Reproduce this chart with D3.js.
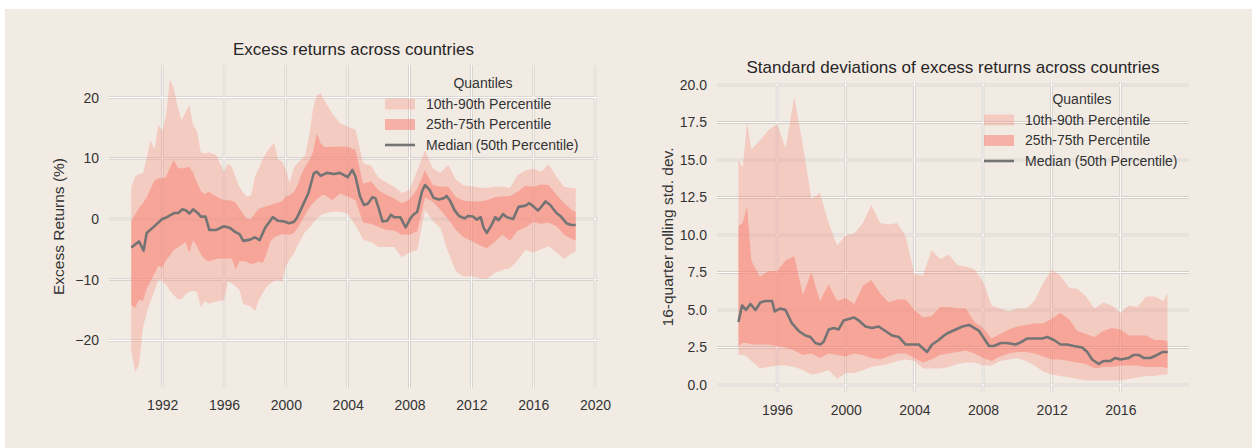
<!DOCTYPE html>
<html>
<head>
<meta charset="utf-8">
<script src="https://cdn.jsdelivr.net/npm/d3@7"></script>
<style>
html, body { margin: 0; padding: 0; background: #ffffff; }
svg { display: block; font-family: "Liberation Sans", Arial, sans-serif; }
</style>
</head>
<body>
<div id="chart"></div>
<script>
// ---- Left panel: excess returns across countries (%) ----
// quarterly readings where the bands are spiky, half-year elsewhere
const leftDates = [
  1990, 1990.25, 1990.5, 1990.75, 1991, 1991.25, 1991.5, 1991.75,
  1992, 1992.25, 1992.5, 1992.75, 1993, 1993.25, 1993.5, 1993.75,
  1994, 1994.25, 1994.5, 1994.75,
  1995, 1995.5,
  1996, 1996.25, 1996.5, 1996.75, 1997, 1997.25, 1997.5, 1997.75,
  1998, 1998.25, 1998.5, 1998.75, 1999, 1999.25, 1999.5, 1999.75,
  2000, 2000.25, 2000.5, 2000.75, 2001, 2001.25, 2001.5, 2001.75,
  2002, 2002.25, 2002.5,
  2003, 2003.5, 2004, 2004.5,
  2005, 2005.5, 2006, 2006.5, 2007, 2007.5, 2008, 2008.5, 2009, 2009.5,
  2010, 2010.5, 2011, 2011.5, 2012, 2012.5, 2013, 2013.5, 2014, 2014.5,
  2015, 2015.5, 2016, 2016.5, 2017, 2017.5, 2018, 2018.5, 2018.75
];
const leftP90 = [
  5.3, 7.0, 7.4, 7.5, 10.0, 13.0, 11.4, 15.5,
  14.5, 17.0, 23.0, 21.5, 18.5, 16.3, 17.5, 18.8,
  15.5, 14.4, 11.0, 10.8,
  11.0, 10.5,
  7.8, 9.2, 8.6, 6.8, 5.3, 4.3, 3.7, 3.9,
  7.0, 8.3, 9.8, 11.0, 11.9, 12.5, 9.7, 9.5,
  8.1, 5.9, 8.4, 9.2, 9.8, 10.5, 13.6, 18.0,
  20.4, 20.7, 19.5,
  17.4, 15.8, 15.2, 14.7,
  9.2, 8.8, 6.8, 6.0, 5.3, 4.3, 4.8, 8.0, 11.3, 8.3,
  7.6, 8.9, 6.5, 5.5, 5.4, 5.2, 5.1, 5.3, 5.3, 5.1,
  7.3, 8.0, 8.3, 7.8, 9.0, 7.0, 5.3, 5.1, 5.1
];
const leftP75 = [
  -0.4, 0.8, 1.8, 2.6, 3.6, 5.0, 6.3, 6.7,
  6.7, 6.9, 8.5, 9.7, 8.5, 8.3, 8.4, 8.6,
  7.6, 6.0, 4.6, 4.1,
  4.5, 3.7,
  3.1, 3.1, 3.0, 2.7, 1.7, 0.8, 0.0, 0.0,
  0.9, 1.7, 1.9, 2.1, 2.3, 2.5, 2.7, 2.9,
  3.7, 3.9, 4.4, 5.5, 7.3, 8.7, 9.6, 11.0,
  14.1, 12.5, 11.8,
  11.9, 11.9, 11.9, 11.4,
  5.8, 6.2, 4.7, 4.0, 3.4, 2.6, 3.2, 5.0, 8.0, 5.6,
  5.3, 5.3, 3.6, 3.0, 2.9, 2.9, 3.1, 3.6, 3.7, 3.8,
  4.5, 5.5, 5.3, 5.7, 5.6, 4.0, 2.6, 1.5, 1.2
];
const leftP25 = [
  -14.2, -14.6, -13.3, -13.5, -11.5, -10.2, -9.0, -7.7,
  -8.0, -6.8, -6.0, -5.1, -4.7, -4.3, -3.8, -5.5,
  -3.5, -4.5, -5.8, -6.6,
  -7.0, -6.6,
  -6.5, -6.5, -6.5, -8.3, -7.0, -6.9, -7.1, -7.4,
  -7.3, -7.0, -7.3, -5.7, -3.7, -3.0, -2.7, -2.5,
  -2.5, -2.6, -2.4, -1.5, -0.4, 0.7, 1.8, 2.6,
  3.2, 3.8, 4.0,
  3.1, 4.2, 3.7, 3.1,
  -0.6, -0.8, -1.3, -1.8, -1.9, -2.6, -2.6, -2.0, 3.5, 2.9,
  1.5, 0.0, -1.8, -3.0, -3.6, -4.3, -4.8, -3.8, -2.6, -3.6,
  -1.9, -1.4, -0.5, -0.8, -0.6, -1.2, -2.6, -3.3, -3.5
];
const leftP10 = [
  -21.6, -25.2, -24.0, -18.0, -15.5, -13.5, -11.8, -10.0,
  -10.3, -10.8, -11.8, -12.5, -13.2, -13.2, -12.4, -12.0,
  -11.8, -12.0, -14.5, -13.5,
  -13.9, -13.6,
  -13.4, -10.3, -10.6, -11.1, -11.7, -14.0, -14.2, -14.4,
  -15.2, -13.4, -12.2, -11.2, -10.6, -10.2, -10.1, -10.3,
  -7.8, -6.6, -5.8, -4.4, -3.2, -2.1, -1.5, -0.7,
  0.1, 0.6, 0.9,
  1.2, 1.2, 0.9, -1.0,
  -3.4, -3.8, -4.6, -4.6, -4.6, -6.3, -5.5, -5.1, 1.5, -0.3,
  -1.5, -5.5, -8.6, -9.5, -9.4, -9.7, -9.9, -8.9, -8.4, -8.1,
  -6.8, -5.1, -5.5, -5.0, -4.5, -5.5, -6.6, -5.6, -5.4
];
// median read at its turning points
const leftMedDates = [
  1990.0, 1990.5, 1990.8, 1991.0, 1991.45, 1992.0, 1992.3, 1992.8, 1993.05, 1993.3,
  1993.55, 1993.75, 1994.0, 1994.3, 1994.5, 1994.8, 1995.05, 1995.5, 1996.0, 1996.4,
  1996.7, 1997.0, 1997.25, 1997.7, 1998.0, 1998.3, 1998.65, 1999.15, 1999.5, 1999.9,
  2000.2, 2000.5, 2000.7, 2001.05, 2001.45, 2001.8, 2002.0, 2002.25, 2002.65, 2003.1,
  2003.5, 2004.0, 2004.3, 2004.5, 2004.8, 2005.05, 2005.3, 2005.6, 2005.8, 2006.0,
  2006.25, 2006.55, 2006.8, 2007.0, 2007.4, 2007.75, 2008.05, 2008.25, 2008.5, 2008.8,
  2009.0, 2009.3, 2009.55, 2009.9, 2010.2, 2010.4, 2010.6, 2010.9, 2011.2, 2011.55,
  2011.8, 2012.1, 2012.35, 2012.6, 2012.8, 2013.0, 2013.3, 2013.55, 2013.75, 2014.05,
  2014.3, 2014.7, 2015.05, 2015.5, 2015.75, 2016.05, 2016.3, 2016.55, 2016.8, 2017.1,
  2017.5, 2017.8, 2018.15, 2018.45, 2018.75
];
const leftMed = [
  -4.7, -3.7, -5.2, -2.3, -1.3, 0.0, 0.3, 1.0, 1.0, 1.6,
  1.4, 0.9, 1.6, 1.0, 0.4, 0.4, -1.8, -1.8, -1.2, -1.5,
  -2.1, -2.5, -3.6, -3.4, -3.0, -3.5, -1.5, 0.3, -0.3, -0.4,
  -0.7, -0.5, 0.1, 2.0, 4.2, 7.5, 7.8, 7.1, 7.6, 7.4,
  7.6, 6.9, 8.1, 7.0, 3.7, 2.3, 2.5, 3.6, 3.4, 1.8,
  -0.4, -0.3, 0.7, 0.3, 0.3, -1.4, 0.1, 0.7, 1.2, 4.5,
  5.6, 4.8, 3.5, 3.2, 3.4, 3.8, 3.1, 1.5, 0.5, 0.1,
  0.5, 0.4, -0.1, 0.3, -1.5, -2.3, -1.0, 0.3, -0.2, 0.8,
  0.3, 0.0, 2.0, 2.2, 2.6, 2.0, 1.4, 2.1, 2.9, 2.3,
  1.0, 0.4, -0.7, -1.0, -1.0
];
const leftXTicks = [1992, 1996, 2000, 2004, 2008, 2012, 2016, 2020];
const leftYTicks = [-20, -10, 0, 10, 20];

// ---- Right panel: 16-quarter rolling std. dev. of excess returns ----
const rightDates = [
  1993.75, 1994, 1994.25, 1994.5,
  1995, 1995.5, 1996, 1996.5, 1997, 1997.5, 1998, 1998.5, 1999, 1999.5,
  2000, 2000.5, 2001, 2001.5, 2002, 2002.5, 2003, 2003.5, 2004, 2004.5,
  2005, 2005.5, 2006, 2006.5, 2007, 2007.5, 2008, 2008.5, 2009, 2009.5,
  2010, 2010.5, 2011, 2011.5, 2012, 2012.5, 2013, 2013.5, 2014, 2014.5,
  2015, 2015.5, 2016, 2016.5, 2017, 2017.5, 2018, 2018.5, 2018.75
];
const rightP90 = [
  15.0, 14.5, 17.5, 15.7,
  16.3, 17.0, 17.4, 15.8, 19.2, 16.0, 12.4, 12.8, 10.8, 9.3,
  10.0, 10.1, 10.8, 12.0, 10.8, 10.7, 10.8, 9.9, 7.4, 7.3,
  9.0, 8.4, 8.7, 8.0, 7.9, 7.7, 6.9, 5.3, 5.1, 4.9,
  5.1, 5.1, 5.6, 6.8, 7.7, 7.3, 6.5, 6.4, 5.9, 5.1,
  5.5, 5.3, 4.8, 5.3, 5.2, 5.9, 5.9, 5.6, 6.1
];
const rightP75 = [
  10.6, 10.8, 11.9, 8.3,
  7.2, 7.6, 7.6, 8.3, 8.6, 6.0, 7.5, 5.6, 6.7, 5.6,
  5.8, 5.4, 6.6, 7.0, 6.1, 5.5, 5.7, 5.7, 5.0, 4.5,
  4.6, 5.2, 5.2, 5.1, 5.1, 4.2, 3.8, 3.1, 3.4, 3.7,
  3.9, 4.0, 4.1, 4.1, 4.4, 4.8, 4.4, 3.6, 3.4, 3.2,
  3.6, 3.8, 3.7, 3.3, 3.3, 3.3, 3.0, 3.0, 2.9
];
const rightP25 = [
  2.6, 2.8, 2.8, 2.7,
  2.7, 2.7, 2.6, 2.5, 2.3, 2.0, 2.1, 1.8, 2.1, 2.0,
  1.9, 2.1, 2.0, 1.8, 1.7, 1.9, 2.1, 2.1, 1.8, 1.5,
  1.7, 2.0, 2.1, 2.2, 2.3, 2.1, 1.8, 1.6, 1.9, 2.1,
  2.2, 2.2, 2.1, 1.9, 1.7, 1.7, 1.6, 1.5, 1.4, 1.1,
  1.2, 1.2, 1.3, 1.3, 1.3, 1.2, 1.2, 1.2, 1.1
];
const rightP10 = [
  2.0, 2.0, 1.9, 1.6,
  1.1, 1.2, 1.3, 1.3, 1.2, 1.0, 0.7, 0.8, 1.0, 0.4,
  0.8, 0.8, 1.0, 1.2, 1.3, 1.4, 1.6, 1.7, 1.6, 1.1,
  1.1, 1.1, 1.2, 1.4, 1.5, 1.5, 1.3, 1.3, 1.6, 1.7,
  1.8, 1.6, 1.3, 0.9, 0.7, 0.6, 0.5, 0.4, 0.3, 0.3,
  0.3, 0.3, 0.3, 0.4, 0.5, 0.6, 0.6, 0.7, 0.7
];
const rightMedDates = [
  1993.75, 1993.96, 1994.19, 1994.45, 1994.74, 1995.03, 1995.32, 1995.71, 1995.86, 1996.19,
  1996.49, 1996.87, 1997.26, 1997.65, 1997.94, 1998.23, 1998.52, 1998.72, 1999.01, 1999.3,
  1999.59, 1999.88, 2000.17, 2000.47, 2000.76, 2001.15, 2001.53, 2001.92, 2002.31, 2002.7,
  2003.09, 2003.48, 2003.86, 2004.25, 2004.74, 2005.03, 2005.42, 2005.73, 2006.02, 2006.41,
  2006.8, 2007.19, 2007.48, 2007.77, 2008.06, 2008.35, 2008.64, 2009.03, 2009.41, 2009.9,
  2010.29, 2010.58, 2011.06, 2011.45, 2011.74, 2012.13, 2012.52, 2012.9, 2013.29, 2013.78,
  2014.07, 2014.36, 2014.74, 2015.03, 2015.42, 2015.71, 2016.0, 2016.49, 2016.78, 2017.07,
  2017.36, 2017.75, 2018.14, 2018.47, 2018.76
];
const rightMed = [
  4.2, 5.3, 5.0, 5.4, 5.0, 5.5, 5.6, 5.6, 4.9, 5.1,
  5.0, 4.1, 3.6, 3.3, 3.2, 2.8, 2.7, 2.9, 3.7, 3.8,
  3.7, 4.3, 4.4, 4.5, 4.3, 3.9, 3.8, 3.9, 3.6, 3.3,
  3.2, 2.7, 2.7, 2.7, 2.2, 2.7, 3.0, 3.3, 3.5, 3.7,
  3.9, 4.0, 3.8, 3.6, 3.1, 2.6, 2.6, 2.8, 2.8, 2.7,
  2.9, 3.1, 3.1, 3.1, 3.2, 3.0, 2.7, 2.7, 2.6, 2.5,
  2.2, 1.7, 1.4, 1.6, 1.6, 1.8, 1.7, 1.8, 2.0, 2.0,
  1.8, 1.8, 2.0, 2.2, 2.2
];
const rightXTicks = [1996, 2000, 2004, 2008, 2012, 2016];
const rightYTicks = [0, 2.5, 5, 7.5, 10, 12.5, 15, 17.5, 20];

const legendLabels = ['10th-90th Percentile', '25th-75th Percentile', 'Median (50th Percentile)'];

// ---- drawing ----
const W = 1252, H = 448;
const bandColor = '#fa8072';
const textColor = '#333333';

const svg = d3.select('#chart').append('svg')
    .attr('width', W)
    .attr('height', H);

svg.append('rect')
    .attr('x', 5).attr('y', 9)
    .attr('width', W - 5).attr('height', H - 9)
    .attr('fill', '#f2ebe4');

function drawPanel(p) {
    const x = d3.scaleLinear().domain(p.xDomain).range([p.left, p.right]);
    const y = d3.scaleLinear().domain(p.yDomain).range([p.bottom, p.top]);
    const g = svg.append('g');

    // grid (grey edge + white core)
    [['#cbc5bf', 2.4], ['#ffffff', 1.1]].forEach(([col, w]) => {
        g.append('g').selectAll('line')
            .data(p.yTicks).join('line')
            .attr('x1', p.left).attr('x2', p.right)
            .attr('y1', d => y(d)).attr('y2', d => y(d))
            .attr('stroke', col).attr('stroke-width', w);
        g.append('g').selectAll('line')
            .data(p.xTicks).join('line')
            .attr('x1', d => x(d)).attr('x2', d => x(d))
            .attr('y1', p.top).attr('y2', p.bottom)
            .attr('stroke', col).attr('stroke-width', w);
    });

    const rows = p.dates.map((d, i) => ({d: d, p10: p.p10[i], p25: p.p25[i], p75: p.p75[i], p90: p.p90[i]}));

    g.append('path')
        .datum(rows)
        .attr('d', d3.area().x(r => x(r.d)).y0(r => y(r.p10)).y1(r => y(r.p90)))
        .attr('fill', bandColor).attr('fill-opacity', 0.3);

    g.append('path')
        .datum(rows)
        .attr('d', d3.area().x(r => x(r.d)).y0(r => y(r.p25)).y1(r => y(r.p75)))
        .attr('fill', bandColor).attr('fill-opacity', 0.5);

    const med = p.medDates.map((d, i) => [d, p.med[i]]);
    g.append('path')
        .datum(med)
        .attr('d', d3.line().x(m => x(m[0])).y(m => y(m[1])))
        .attr('fill', 'none')
        .attr('stroke', '#747474')
        .attr('stroke-width', 2.6)
        .attr('stroke-linejoin', 'round');

    // axes labels
    const xAxis = g.append('g')
        .attr('transform', `translate(0,${p.bottom})`)
        .call(d3.axisBottom(x).tickValues(p.xTicks).tickFormat(d3.format('d')).tickSize(0).tickPadding(p.xPad));
    const yAxis = g.append('g')
        .attr('transform', `translate(${p.left},0)`)
        .call(d3.axisLeft(y).tickValues(p.yTicks).tickFormat(p.yFormat).tickSize(0).tickPadding(10));
    [xAxis, yAxis].forEach(a => {
        a.select('.domain').remove();
        a.selectAll('text')
            .attr('fill', textColor)
            .attr('font-size', 14)
            .attr('font-family', '"Liberation Sans", Arial, sans-serif');
    });

    // title
    g.append('text')
        .attr('x', (p.left + p.right) / 2)
        .attr('y', p.titleY)
        .attr('text-anchor', 'middle')
        .attr('fill', '#262626')
        .attr('font-size', 17)
        .text(p.title);

    // y label
    g.append('text')
        .attr('transform', `translate(${p.yLabelX},${(p.top + p.bottom) / 2}) rotate(-90)`)
        .attr('text-anchor', 'middle')
        .attr('dy', '0.35em')
        .attr('fill', textColor)
        .attr('font-size', 15.5)
        .text(p.yLabel);

    // legend
    const lg = g.append('g').attr('transform', `translate(${p.legendX},${p.legendY})`);
    lg.append('text')
        .attr('x', 98).attr('y', 0).attr('dy', '0.35em')
        .attr('text-anchor', 'middle')
        .attr('fill', textColor).attr('font-size', 14)
        .text('Quantiles');
    lg.append('rect')
        .attr('x', 0).attr('y', 20.5 - 5.5).attr('width', 30).attr('height', 11)
        .attr('fill', bandColor).attr('fill-opacity', 0.3);
    lg.append('rect')
        .attr('x', 0).attr('y', 41 - 5.5).attr('width', 30).attr('height', 11)
        .attr('fill', bandColor).attr('fill-opacity', 0.55);
    lg.append('line')
        .attr('x1', 0).attr('x2', 30).attr('y1', 61.5).attr('y2', 61.5)
        .attr('stroke', '#747474').attr('stroke-width', 2.6);
    lg.selectAll('text.item')
        .data(legendLabels).join('text')
        .attr('class', 'item')
        .attr('x', 41)
        .attr('y', (d, i) => 20.5 * (i + 1))
        .attr('dy', '0.35em')
        .attr('fill', textColor).attr('font-size', 14)
        .text(d => d);
}

drawPanel({
    dates: leftDates, p10: leftP10, p25: leftP25, p75: leftP75, p90: leftP90,
    medDates: leftMedDates, med: leftMed,
    xTicks: leftXTicks, yTicks: leftYTicks,
    xDomain: [1988.56, 2020.19], yDomain: [-27.84, 25.37],
    left: 109, right: 598, top: 65, bottom: 388,
    xPad: 12, yFormat: d3.format('d'),
    title: 'Excess returns across countries', titleY: 55,
    yLabel: 'Excess Returns (%)', yLabelX: 59,
    legendX: 385, legendY: 83.5
});

drawPanel({
    dates: rightDates, p10: rightP10, p25: rightP25, p75: rightP75, p90: rightP90,
    medDates: rightMedDates, med: rightMed,
    xTicks: rightXTicks, yTicks: rightYTicks,
    xDomain: [1992.5, 2020.0], yDomain: [-0.47, 20.2],
    left: 717, right: 1189, top: 82, bottom: 392,
    xPad: 13, yFormat: d3.format('.1f'),
    title: 'Standard deviations of excess returns across countries', titleY: 73,
    yLabel: '16-quarter rolling std. dev.', yLabelX: 668,
    legendX: 984, legendY: 99.5
});
</script>
</body>
</html>
